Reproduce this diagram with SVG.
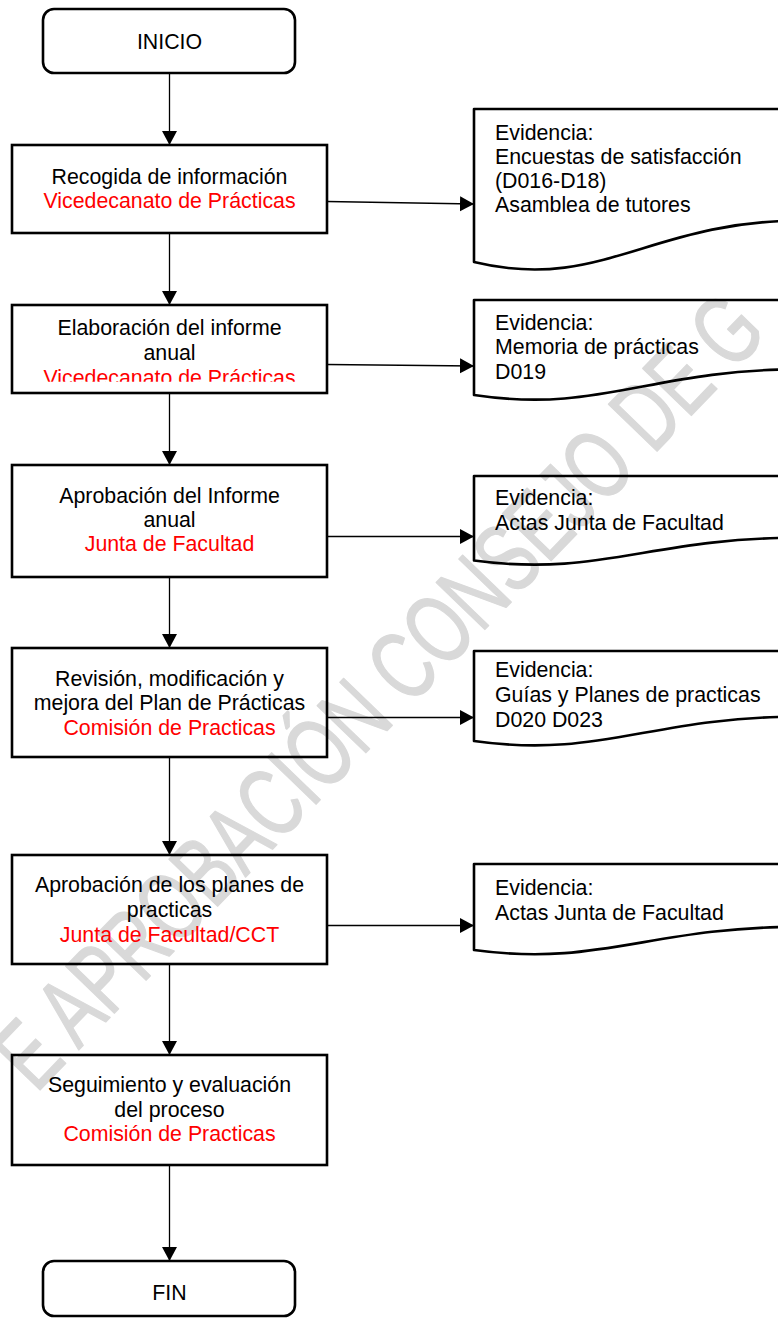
<svg xmlns="http://www.w3.org/2000/svg" width="778" height="1319" viewBox="0 0 778 1319">
<style>
.bg{fill:#ffffff}
.box{fill:none;stroke:#000;stroke-width:2.6}
.doc{fill:none;stroke:#000;stroke-width:2.6;stroke-linejoin:round}
.t{font-family:"Liberation Sans",Arial,sans-serif;font-size:21.33px;fill:#000}
.c{text-anchor:middle}
.r{fill:#ff0000}
.conn{stroke:#000;stroke-width:1.3;fill:none}
.wm{font-family:"Liberation Sans",Arial,sans-serif;font-size:98px;fill:#d9d9d9;stroke:#d9d9d9;stroke-width:1.5;stroke-linejoin:round}
</style>
<defs>
<marker id="arr" markerUnits="userSpaceOnUse" markerWidth="15" markerHeight="16" refX="14" refY="7.5" orient="auto">
<path d="M0,0 L14,7.5 L0,15 Z" fill="#000"/>
</marker>
<clipPath id="clip2"><rect x="12" y="305" width="315" height="76.7"/></clipPath>
</defs>
<rect class="bg" x="0" y="0" width="778" height="1319"/>
<g id="watermark">
<text class="wm" transform="translate(36,1094) rotate(-46) scale(0.7,1)" x="0" y="0">E APROBACIÓN CONSEJO DE G</text>
</g>
<g id="connectors">
<line class="conn" x1="169.5" y1="73" x2="169.5" y2="145" marker-end="url(#arr)"/>
<line class="conn" x1="169.5" y1="233" x2="169.5" y2="305" marker-end="url(#arr)"/>
<line class="conn" x1="169.5" y1="393" x2="169.5" y2="465" marker-end="url(#arr)"/>
<line class="conn" x1="169.5" y1="577" x2="169.5" y2="648" marker-end="url(#arr)"/>
<line class="conn" x1="169.5" y1="757" x2="169.5" y2="855" marker-end="url(#arr)"/>
<line class="conn" x1="169.5" y1="964" x2="169.5" y2="1055" marker-end="url(#arr)"/>
<line class="conn" x1="169.5" y1="1165" x2="169.5" y2="1261" marker-end="url(#arr)"/>
<line class="conn" x1="327" y1="201.5" x2="474" y2="204" marker-end="url(#arr)"/>
<line class="conn" x1="327" y1="364.5" x2="474" y2="366" marker-end="url(#arr)"/>
<line class="conn" x1="327" y1="536.5" x2="474" y2="536.5" marker-end="url(#arr)"/>
<line class="conn" x1="327" y1="717.5" x2="474" y2="717.5" marker-end="url(#arr)"/>
<line class="conn" x1="327" y1="925.5" x2="474" y2="925.5" marker-end="url(#arr)"/>
</g>
<g id="inicio">
<rect class="box" x="43" y="9" width="252" height="64" rx="11"/>
<text class="t c" x="169.5" y="49.3">INICIO</text>
</g>
<g id="recogida">
<rect class="box" x="12" y="145" width="315" height="88"/>
<text class="t c" x="169.5" y="184">Recogida de información</text>
<text class="t c r" x="169.5" y="208">Vicedecanato de Prácticas</text>
</g>
<g id="elaboracion">
<rect class="box" x="12" y="305" width="315" height="88"/>
<text class="t c" x="169.5" y="335">Elaboración del informe</text>
<text class="t c" x="169.5" y="360">anual</text>
<text class="t c r" x="169.5" y="385.3" clip-path="url(#clip2)">Vicedecanato de Prácticas</text>
</g>
<g id="aprobacion-informe">
<rect class="box" x="12" y="465" width="315" height="112"/>
<text class="t c" x="169.5" y="502.7">Aprobación del Informe</text>
<text class="t c" x="169.5" y="526.7">anual</text>
<text class="t c r" x="169.5" y="551">Junta de Facultad</text>
</g>
<g id="revision">
<rect class="box" x="12" y="648" width="315" height="109"/>
<text class="t c" x="169.5" y="686">Revisión, modificación y</text>
<text class="t c" x="169.5" y="710">mejora del Plan de Prácticas</text>
<text class="t c r" x="169.5" y="734.5">Comisión de Practicas</text>
</g>
<g id="aprobacion-planes">
<rect class="box" x="12" y="855" width="315" height="109"/>
<text class="t c" x="169.5" y="891.7">Aprobación de los planes de</text>
<text class="t c" x="169.5" y="916.7">practicas</text>
<text class="t c r" x="169.5" y="941.7">Junta de Facultad/CCT</text>
</g>
<g id="seguimiento">
<rect class="box" x="12" y="1055" width="315" height="110"/>
<text class="t c" x="169.5" y="1091.7">Seguimiento y evaluación</text>
<text class="t c" x="169.5" y="1116.7">del proceso</text>
<text class="t c r" x="169.5" y="1140.7">Comisión de Practicas</text>
</g>
<g id="fin">
<rect class="box" x="43" y="1261" width="252" height="55" rx="11"/>
<text class="t c" x="169.5" y="1300">FIN</text>
</g>
<g id="evidencia1">
<path class="doc" d="M474,262 V109 H800 V220.7 C650,220.7 600,292.6 474,262 Z"/>
<text class="t" x="495" y="140">Evidencia:</text>
<text class="t" x="495" y="164">Encuestas de satisfacción</text>
<text class="t" x="495" y="188">(D016-D18)</text>
<text class="t" x="495" y="212">Asamblea de tutores</text>
</g>
<g id="evidencia2">
<path class="doc" d="M474,395 V300 H800 V369.3 C650,369.3 600,414 474,395 Z"/>
<text class="t" x="495" y="329.5">Evidencia:</text>
<text class="t" x="495" y="354">Memoria de prácticas</text>
<text class="t" x="495" y="378.5">D019</text>
</g>
<g id="evidencia3">
<path class="doc" d="M474,560.5 V476 H800 V537.7 C650,537.7 600,577.4 474,560.5 Z"/>
<text class="t" x="495" y="505">Evidencia:</text>
<text class="t" x="495" y="530">Actas Junta de Facultad</text>
</g>
<g id="evidencia4">
<path class="doc" d="M474,741 V651 H800 V716.7 C650,716.7 600,759 474,741 Z"/>
<text class="t" x="495" y="676.7">Evidencia:</text>
<text class="t" x="495" y="701.7">Guías y Planes de practicas</text>
<text class="t" x="495" y="726.7">D020 D023</text>
</g>
<g id="evidencia5">
<path class="doc" d="M474,950 V864 H800 V926.8 C650,926.8 600,967.2 474,950 Z"/>
<text class="t" x="495" y="895">Evidencia:</text>
<text class="t" x="495" y="919.5">Actas Junta de Facultad</text>
</g>
</svg>
